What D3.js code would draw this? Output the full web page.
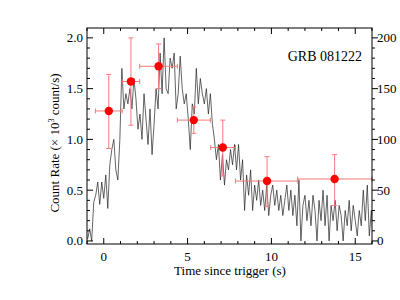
<!DOCTYPE html>
<html>
<head>
<meta charset="utf-8">
<script src="https://cdn.jsdelivr.net/npm/d3@7"></script>
<style>
  body { margin: 0; background: #fff; }
</style>
</head>
<body>
<div class="chart"></div>
<script>
// light curve, one bin every 0.12 s starting at t0
const lcStart = -0.96, lcBin = 0.12;
const lcRate = [
  0.02, 0.12, 0.0, 0.38, 0.45, 0.58, 0.36, 0.58, 0.42, 0.65, 0.32, 0.75, 0.9, 1.0, 0.7, 0.6,
  1.0, 1.7, 1.3, 1.45, 1.35, 1.5, 1.3, 1.6, 1.4, 1.1, 1.25, 1.0, 1.45, 1.2, 0.95, 1.3,
  0.85, 1.15, 1.5, 1.3, 1.85, 1.45, 2.0, 1.5, 1.45, 1.8, 1.7, 1.85, 1.3, 1.45, 1.82, 1.5,
  1.35, 1.45, 1.2, 0.9, 1.35, 1.25, 1.7, 1.35, 1.6, 1.45, 1.35, 1.5, 1.25, 1.45, 1.15, 1.0,
  0.8, 0.95, 0.6, 0.85, 0.55, 0.8, 0.7, 0.9, 0.75, 0.95, 0.7, 0.95, 0.6, 0.8, 0.3, 0.65,
  0.45, 0.7, 0.3, 0.55, 0.4, 0.6, 0.35, 0.5, 0.3, 0.55, 0.25, 0.45, 0.55, 0.35, 0.5, 0.3,
  0.45, 0.25, 0.4, 0.55, 0.3, 0.5, 0.25, 0.45, 0.15, 0.6, 0.0, 0.35, 0.45, 0.2, 0.4, 0.15,
  0.45, 0.3, 0.0, 0.4, 0.2, 0.5, 0.15, 0.45, 0.0, 0.35, 0.2, 0.4, 0.1, 0.35, 0.25, 0.0,
  0.3, 0.15, 0.4, 0.1, 0.35, 0.2, 0.05, 0.3, 0.15, 0.5, 0.2, 0.55, 0.05, 0.3, 0.0
];

// binned points with errors
const ptTime = [0.3, 1.62, 3.27, 5.37, 7.1, 9.74, 13.77];
const ptRate = [1.28, 1.57, 1.72, 1.19, 0.92, 0.59, 0.61];
const ptXlo  = [-0.5, 1.1, 2.14, 4.39, 6.38, 7.86, 11.57];
const ptXhi  = [1.1, 2.14, 4.39, 6.36, 7.86, 11.57, 16.0];
const ptYlo  = [0.91, 1.14, 1.5, 1.06, 0.64, 0.34, 0.35];
const ptYhi  = [1.64, 2.0, 1.94, 1.32, 1.19, 0.83, 0.85];

const xTicks = [0, 5, 10, 15];
const yTicks = [0, 0.5, 1.0, 1.5, 2.0];
const rTicks = [0, 50, 100, 150, 200];

const W = 400, H = 300;
const L = 87, R = 372, T = 28, B = 244;
const serif = "'Liberation Serif', 'Times New Roman', 'DejaVu Serif', serif";

const svg = d3.select(".chart").append("svg")
  .attr("width", W).attr("height", H)
  .attr("font-family", serif);

const x = d3.scaleLinear().domain([-1, 16]).range([L, R]);
const y = d3.scaleLinear().domain([-0.03, 2.097]).range([B, T]);
const yr = d3.scaleLinear().domain([-3, 209.7]).range([B, T]);

svg.append("clipPath").attr("id", "clip")
  .append("rect").attr("x", L).attr("y", T).attr("width", R - L).attr("height", B - T);

// light curve
const lc = lcRate.map((v, i) => ({t: lcStart + i * lcBin, v: v}));
svg.append("path")
  .datum(lc)
  .attr("clip-path", "url(#clip)")
  .attr("fill", "none")
  .attr("stroke", "#222")
  .attr("stroke-width", 0.7)
  .attr("d", d3.line().x(d => x(d.t)).y(d => y(d.v)));

// error bars
const pts = ptTime.map((t, i) => ({t: t, v: ptRate[i], x0: ptXlo[i], x1: ptXhi[i], y0: ptYlo[i], y1: ptYhi[i]}));
const eb = svg.append("g").attr("stroke", "#f47a7a").attr("stroke-width", 1).attr("fill", "none");
pts.forEach(function(d) {
  eb.append("line").attr("x1", x(d.x0)).attr("x2", x(d.x1)).attr("y1", y(d.v)).attr("y2", y(d.v));
  eb.append("line").attr("x1", x(d.t)).attr("x2", x(d.t)).attr("y1", y(d.y0)).attr("y2", y(d.y1));
  [d.x0, d.x1].forEach(xx => eb.append("line").attr("x1", x(xx)).attr("x2", x(xx))
    .attr("y1", y(d.v) - 2.5).attr("y2", y(d.v) + 2.5));
  [d.y0, d.y1].forEach(yy => eb.append("line").attr("x1", x(d.t) - 2.5).attr("x2", x(d.t) + 2.5)
    .attr("y1", y(yy)).attr("y2", y(yy)));
});
svg.append("g").selectAll("circle").data(pts).join("circle")
  .attr("cx", d => x(d.t)).attr("cy", d => y(d.v)).attr("r", 4.2)
  .attr("fill", "#ff0000");

// frame
svg.append("rect").attr("x", L).attr("y", T).attr("width", R - L).attr("height", B - T)
  .attr("fill", "none").attr("stroke", "#000").attr("stroke-width", 1);

// ticks
const tk = svg.append("g").attr("stroke", "#000").attr("stroke-width", 1);
d3.range(-1, 17, 1).forEach(function(t) {
  const len = (t % 5 === 0) ? 6 : 3;
  tk.append("line").attr("x1", x(t)).attr("x2", x(t)).attr("y1", B).attr("y2", B - len);
  tk.append("line").attr("x1", x(t)).attr("x2", x(t)).attr("y1", T).attr("y2", T + len);
});
d3.range(0, 21, 1).forEach(function(k) {
  const len = (k % 5 === 0) ? 6 : 3;
  tk.append("line").attr("x1", L).attr("x2", L + len).attr("y1", y(k / 10)).attr("y2", y(k / 10));
  tk.append("line").attr("x1", R).attr("x2", R + len).attr("y1", yr(k * 10)).attr("y2", yr(k * 10));
});

// tick labels
svg.append("g").selectAll("text").data(xTicks).join("text")
  .attr("x", d => x(d)).attr("y", 261).attr("text-anchor", "middle")
  .attr("font-size", 13).text(d => d);
svg.append("g").selectAll("text").data(yTicks).join("text")
  .attr("x", L - 4).attr("y", d => y(d) + 4.5).attr("text-anchor", "end")
  .attr("font-size", 13).text(d => d.toFixed(1));
svg.append("g").selectAll("text").data(rTicks).join("text")
  .attr("x", R + 5).attr("y", d => yr(d) + 4.5).attr("text-anchor", "start")
  .attr("font-size", 13).text(d => d);

// axis titles
svg.append("text").attr("x", (L + R) / 2 + 0.5).attr("y", 275).attr("text-anchor", "middle")
  .attr("font-size", 13).text("Time since trigger (s)");
const yl = svg.append("text")
  .attr("transform", "translate(59," + 143 + ") rotate(-90)")
  .attr("text-anchor", "middle").attr("font-size", 13);
yl.append("tspan").text("Count Rate (× 10");
yl.append("tspan").attr("font-size", 8).attr("dy", -5).text("3");
yl.append("tspan").attr("dy", 5).text(" count/s)");

svg.append("text").attr("x", 362).attr("y", 61).attr("text-anchor", "end")
  .attr("font-size", 14).text("GRB 081222");
</script>
</body>
</html>
